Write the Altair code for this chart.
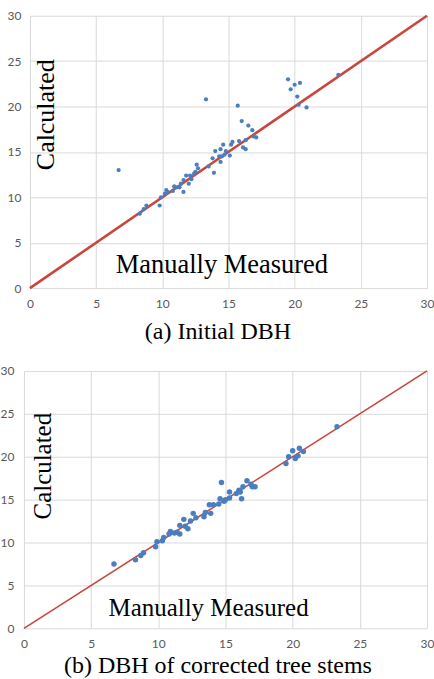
import altair as alt
import pandas as pd

# (a) Initial DBH
a_measured = [6.7, 8.3, 8.6, 8.8, 9.8, 9.9, 10.2, 10.3, 10.4, 10.8, 10.9, 11.1, 11.3, 11.4, 11.6, 11.6,
              11.8, 12.0, 12.1, 12.2, 12.4, 12.5, 12.6, 12.7, 13.3, 13.5, 13.8, 13.9, 14.0, 14.3, 14.4,
              14.4, 14.5, 14.6, 14.7, 14.8, 15.1, 15.2, 15.3, 15.7, 15.8, 16.0, 16.1, 16.3, 16.3, 16.5,
              16.8, 16.9, 17.1, 19.5, 19.7, 20.0, 20.4, 20.2, 20.3, 20.9, 23.3]
a_calculated = [13.0, 8.2, 8.7, 9.1, 9.1, 10.0, 10.4, 10.8, 10.6, 10.7, 11.2, 11.1, 11.1, 11.5, 10.6, 11.9,
                12.4, 11.5, 12.4, 12.0, 12.6, 12.8, 13.6, 13.2, 20.8, 13.4, 14.3, 12.7, 15.1, 14.5, 13.9,
                15.3, 14.5, 15.8, 14.7, 15.1, 14.6, 15.8, 16.1, 20.1, 16.2, 18.4, 15.5, 15.3, 16.3, 17.9,
                17.4, 16.7, 16.6, 23.0, 21.9, 22.4, 22.6, 21.1, 20.2, 19.9, 23.5]

# (b) DBH of corrected tree stems
b_measured = [6.7, 8.3, 8.7, 8.9, 9.8, 9.9, 10.3, 10.4, 10.8, 10.9, 11.2, 11.4, 11.6, 11.6, 11.9, 12.0,
              12.2, 12.4, 12.6, 12.8, 13.4, 13.5, 13.9, 13.8, 14.1, 14.5, 14.6, 14.7, 14.9, 15.0, 15.3,
              15.3, 15.8, 16.0, 16.1, 16.2, 16.3, 16.6, 16.9, 17.0, 17.2, 19.5, 19.7, 20.0, 20.2, 20.4,
              20.5, 20.8, 23.3]
b_calculated = [7.5, 8.0, 8.5, 8.8, 9.5, 10.1, 10.2, 10.6, 11.0, 11.3, 11.1, 11.2, 11.0, 12.0, 12.7, 11.9,
                11.6, 12.5, 13.4, 12.9, 13.0, 13.5, 13.4, 14.4, 14.4, 14.5, 15.1, 17.0, 14.8, 15.0, 15.2,
                15.9, 15.7, 16.1, 15.9, 15.1, 16.5, 17.2, 16.8, 16.5, 16.5, 19.2, 20.0, 20.7, 19.8, 20.1,
                21.0, 20.6, 23.5]

identity_line = [0, 30]
tick_values = [0, 5, 10, 15, 20, 25, 30]
captions = ["(a) Initial DBH", "(b) DBH of corrected tree stems"]
y_label_text = "Calculated"
x_label_text = "Manually Measured"

BLUE = "#4a7ebf"
RED = "#c8463c"
GRID = "#d9d9d9"
LABEL = "#595959"
SERIF = "Liberation Serif"
PANEL_W = 404
AXIS_EXTENT = 23


def panel(xs, ys, x_start, height, label_pad, caption, title_pad, pt_size, line_w,
          calc_pos, meas_pos, calc_size, meas_size):
    xscale = alt.Scale(domain=[0, 30], nice=False, zero=False, range=[x_start, PANEL_W])
    yscale = alt.Scale(domain=[0, 30], nice=False, zero=False)
    x_axis = alt.Axis(values=tick_values, grid=True, gridColor=GRID, domain=False, ticks=False,
                      labelColor=LABEL, labelFont="Lato", labelFontSize=12, labelPadding=10,
                      labelFlush=False, title=caption, titleFont=SERIF, titleFontSize=24,
                      titleFontWeight="normal", titleColor="black", titlePadding=title_pad,
                      titleX=217 - AXIS_EXTENT, titleAlign="center")
    y_axis = alt.Axis(values=tick_values, grid=True, gridColor=GRID, domain=False, ticks=False,
                      labelColor=LABEL, labelFont="Lato", labelFontSize=12, labelPadding=label_pad,
                      minExtent=AXIS_EXTENT, maxExtent=AXIS_EXTENT, title=None)
    pts = pd.DataFrame({"m": xs, "c": ys})
    line_df = pd.DataFrame({"m": identity_line, "c": identity_line})
    line = alt.Chart(line_df).mark_line(color=RED, strokeWidth=line_w).encode(
        x=alt.X("m:Q", scale=xscale, axis=x_axis),
        y=alt.Y("c:Q", scale=yscale, axis=y_axis),
    )
    points = alt.Chart(pts).mark_circle(color=BLUE, opacity=1, size=pt_size).encode(
        x=alt.X("m:Q"),
        y=alt.Y("c:Q"),
    )
    calc = alt.Chart(pd.DataFrame({"m": [calc_pos[0]], "c": [calc_pos[1]], "t": [y_label_text]})).mark_text(
        font=SERIF, fontSize=calc_size, color="black", angle=270, baseline="middle", align="center"
    ).encode(x="m:Q", y="c:Q", text="t:N")
    meas = alt.Chart(pd.DataFrame({"m": [meas_pos[0]], "c": [meas_pos[1]], "t": [x_label_text]})).mark_text(
        font=SERIF, fontSize=meas_size, color="black", baseline="middle", align="center"
    ).encode(x="m:Q", y="c:Q", text="t:N")
    return alt.layer(line, points, calc, meas).properties(width=PANEL_W, height=height)


top = panel(a_measured, a_calculated, 6, 273, 3, captions[0], 11, 18, 2.6,
            (1.2, 19.1), (14.5, 2.5), 26, 26.5)
bottom = panel(b_measured, b_calculated, 0, 258, 10, captions[1], 4, 30, 1.6,
               (1.4, 18.9), (13.74, 2.35), 25, 25)

chart = alt.vconcat(top, bottom, spacing=21).properties(
    padding={"left": 0, "top": 9, "right": 0, "bottom": 0}
).configure_view(stroke=None)

chart.save("out.html", embed_options={"renderer": "svg", "actions": False})
